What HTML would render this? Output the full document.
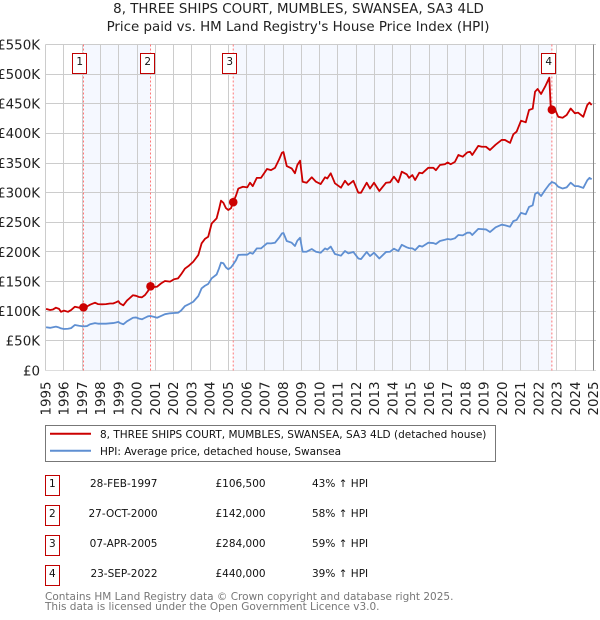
<!DOCTYPE html>
<html>
<head>
<meta charset="utf-8">
<title>8, THREE SHIPS COURT price chart</title>
<style>
html,body{margin:0;padding:0;background:#fff;}
body{width:600px;height:620px;overflow:hidden;position:relative;font-family:"DejaVu Sans","Liberation Sans",sans-serif;}
svg{position:absolute;left:0;top:0;}
text{font-family:"DejaVu Sans","Liberation Sans",sans-serif;}
</style>
</head>
<body>
<svg id="chart" width="600" height="620" viewBox="0 0 600 620" xmlns="http://www.w3.org/2000/svg">
  <text x="298.5" y="13" text-anchor="middle" font-size="13.4" fill="#222">8, THREE SHIPS COURT, MUMBLES, SWANSEA, SA3 4LD</text>
  <text x="298" y="31" text-anchor="middle" font-size="13.4" fill="#222">Price paid vs. HM Land Registry's House Price Index (HPI)</text>
  <g id="bands"></g>
  <g id="grid"></g>
  <g id="yaxis"></g>
  <g id="xaxis"></g>
  <g id="guides"></g>
  <path id="hpi-line" fill="none" stroke="#5f8fd2" stroke-width="1.8" stroke-linejoin="round"></path>
  <path id="price-line" fill="none" stroke="#cc0000" stroke-width="1.8" stroke-linejoin="round"></path>
  <g id="markers"></g>

  <g>
    <rect x="45.5" y="425.5" width="450" height="36" fill="#fff" stroke="#777" stroke-width="1"></rect>
    <line x1="50" x2="91" y1="433.7" y2="433.7" stroke="#cc0000" stroke-width="2"></line>
    <text x="100" y="438" font-size="10.5" fill="#111">8, THREE SHIPS COURT, MUMBLES, SWANSEA, SA3 4LD (detached house)</text>
    <line x1="50" x2="91" y1="450.7" y2="450.7" stroke="#5f8fd2" stroke-width="2"></line>
    <text x="100" y="455" font-size="10.5" fill="#111">HPI: Average price, detached house, Swansea</text>
  </g>

  <g font-size="10.5" fill="#111">
    <g>
      <rect x="45.5" y="475.5" width="14" height="20" fill="#fff" stroke="#c00000"></rect>
      <text x="52.3" y="487" text-anchor="middle">1</text>
      <text x="157.5" y="487" text-anchor="end">28-FEB-1997</text>
      <text x="215.5" y="487">£106,500</text>
      <text x="312" y="487">43% ↑ HPI</text>
    </g>
    <g>
      <rect x="45.5" y="505.5" width="14" height="20" fill="#fff" stroke="#c00000"></rect>
      <text x="52.3" y="517" text-anchor="middle">2</text>
      <text x="157.5" y="517" text-anchor="end">27-OCT-2000</text>
      <text x="215.5" y="517">£142,000</text>
      <text x="312" y="517">58% ↑ HPI</text>
    </g>
    <g>
      <rect x="45.5" y="535.5" width="14" height="20" fill="#fff" stroke="#c00000"></rect>
      <text x="52.3" y="547" text-anchor="middle">3</text>
      <text x="157.5" y="547" text-anchor="end">07-APR-2005</text>
      <text x="215.5" y="547">£284,000</text>
      <text x="312" y="547">59% ↑ HPI</text>
    </g>
    <g>
      <rect x="45.5" y="565.5" width="14" height="20" fill="#fff" stroke="#c00000"></rect>
      <text x="52.3" y="577" text-anchor="middle">4</text>
      <text x="157.5" y="577" text-anchor="end">23-SEP-2022</text>
      <text x="215.5" y="577">£440,000</text>
      <text x="312" y="577">39% ↑ HPI</text>
    </g>
  </g>

  <text x="45" y="600" font-size="10.5" fill="#777">Contains HM Land Registry data © Crown copyright and database right 2025.</text>
  <text x="45" y="610" font-size="10.5" fill="#777">This data is licensed under the Open Government Licence v3.0.</text>
</svg>

<script>
var yearTicks = [1995,1996,1997,1998,1999,2000,2001,2002,2003,2004,2005,2006,2007,2008,2009,2010,2011,2012,2013,2014,2015,2016,2017,2018,2019,2020,2021,2022,2023,2024,2025];
var valueTicks = [0,50,100,150,200,250,300,350,400,450,500,550];
var valueTickLabels = ['£0','£50K','£100K','£150K','£200K','£250K','£300K','£350K','£400K','£450K','£500K','£550K'];

var dates = [
1995.02,1995.24,1995.40,1995.56,1995.73,1995.84,1996.00,1996.22,1996.39,1996.60,
1996.82,1997.06,1997.26,1997.43,1997.70,1997.86,1998.08,1998.30,1998.52,1998.69,
1998.85,1998.98,1999.07,1999.25,1999.45,1999.78,1999.95,2000.11,2000.27,2000.44,
2000.60,2000.74,2000.93,2001.10,2001.32,2001.53,2001.81,2002.03,2002.25,2002.41,
2002.63,2002.85,2003.08,2003.36,2003.54,2003.72,2003.90,2004.09,2004.36,2004.49,
2004.60,2004.73,2004.87,2005.00,2005.15,2005.27,2005.42,2005.55,2005.80,2006.04,
2006.19,2006.34,2006.56,2006.79,2007.12,2007.34,2007.56,2007.78,2007.94,2008.02,
2008.20,2008.47,2008.65,2008.78,2008.93,2009.07,2009.29,2009.57,2009.80,2010.06,
2010.30,2010.42,2010.61,2010.84,2011.17,2011.39,2011.57,2011.85,2012.12,2012.27,
2012.58,2012.76,2012.98,2013.27,2013.64,2013.86,2014.07,2014.31,2014.50,2014.77,
2014.90,2015.08,2015.23,2015.46,2015.62,2015.95,2016.23,2016.37,2016.59,2016.86,
2017.01,2017.18,2017.41,2017.60,2017.84,2018.09,2018.24,2018.36,2018.69,2018.88,
2019.11,2019.33,2019.64,2019.97,2020.15,2020.43,2020.61,2020.79,2021.03,2021.29,
2021.47,2021.67,2021.80,2021.94,2022.13,2022.35,2022.58,2022.66,2022.71,2022.89,
2023.07,2023.31,2023.53,2023.75,2023.98,2024.16,2024.44,2024.66,2024.78,2024.90
];
var priceValues = [
104,102,103,106,104,99,101,99,102,107.6,
106,106.5,108,111,114.4,112,111.7,112,113,113,
115,117,113,110,118,127,126,124,123.5,127.4,
134,141.5,141,141.4,147,151,150,154,155.5,162,
172,177,183.5,195,214.6,222,225.7,248,256.7,272,
286.5,283,274,270.8,274,284,295,307,310,309,
316.8,311,325,325,340,338,342,356,367.5,368.6,
345,341,332.7,346.7,354,318.5,316.8,326,318.5,314.6,
326,324,332.7,315.8,308.4,320,313,320,300,300,
316.8,307,316.8,302.8,316.8,317.5,327,317.5,335.4,331,
325,329.8,321.4,333.7,332.7,342,342,338,346.7,347.9,
351,348,352,363.6,360.7,368,369,363.6,379,377.5,
377.5,372,381,389,389,384,398.5,403,421.5,418.7,
439.5,441.7,470.4,475,466.5,479,494,442,440,440.6,
428,426.5,431,442,434,435,428,448,452,448
];
var hpiValues = [
73,72,73,74,72.5,71,70,70.5,71.5,76.8,
75.5,74.5,75,78,80,79,79,79,79.6,80,
81,82,80,78,83,89,89.5,87.5,86.4,89,
91.4,92,90.5,89,92,95,96.5,97,97.5,101,
108.8,112,116,125.7,138.7,143,146,155.5,162,172,
182,181,174,170.7,174,179,186,195,195.5,195.4,
198.8,197,206,206,214.6,214.5,215.6,224,231.4,232,
218.5,215.6,210,219,224,200.4,200.4,205,200.4,198.7,
206,204,209,196.5,193.7,201.6,197.7,200,189,188,
200,193,198.7,189,200,200.4,205.5,201.6,212,207.8,
206.5,206,203,210.5,209,215.6,215,213.4,218.5,220.5,
221.8,221,223,228.6,228,232.5,232.5,228.6,239,238.5,
238,233.6,241.6,246,245,242.6,252,254,266,263.5,
276,278.7,297.7,300.6,294.4,304.5,314,316,318,316,
310,307,309,316.8,311,311,308,321,325,322.6
];
var saleNumbers = ['1','2','3','4'];
var saleDates = [1997.07,2000.74,2005.27,2022.72];
var salePrices = [106.5,142,284,440];

var svgNS = 'http://www.w3.org/2000/svg';
function xScale(year){ return 45.7 + (year - 1995) * 18.26; }
function yScale(k){ return 370.5 - k * (326 / 550); }
function snap(v){ return Math.round(v - 0.5) + 0.5; }
function make(tag, attrs, parent){
  var el = document.createElementNS(svgNS, tag);
  for (var a in attrs) el.setAttribute(a, attrs[a]);
  parent.appendChild(el);
  return el;
}
var bandsG = document.getElementById('bands');
var gridG = document.getElementById('grid');
var yaxisG = document.getElementById('yaxis');
var xaxisG = document.getElementById('xaxis');
var guidesG = document.getElementById('guides');
var markersG = document.getElementById('markers');
var plotTop = yScale(550), plotBottom = yScale(0);

[[0,1],[2,3]].forEach(function(pair){
  var x0 = xScale(saleDates[pair[0]]), x1 = xScale(saleDates[pair[1]]);
  var band = make('rect', {x:x0, y:plotTop, width:x1-x0, height:plotBottom-plotTop, fill:'#f5f8ff'}, bandsG);
  
  
});

valueTicks.forEach(function(v, i){
  var y = snap(yScale(v));
  var line = make('line', {x1:45.5, x2:596, y1:y, y2:y, stroke: v === 0 ? '#dddddd' : '#cccccc', 'stroke-width':1}, gridG);
  
  
  var label = make('text', {x:40, y:yScale(v)+4.8, 'text-anchor':'end', 'font-size':13.4, fill:'#222'}, yaxisG);
  label.textContent = valueTickLabels[i];
  
  
});

yearTicks.forEach(function(yr){
  var x = snap(xScale(yr));
  var line = make('line', {x1:x, x2:x, y1:plotTop, y2:plotBottom, stroke: yr === 2025 ? '#888888' : '#cccccc', 'stroke-width':1}, gridG);
  
  
  var label = make('text', {transform:'translate(' + (xScale(yr)+4.7) + ',415.5) rotate(-90)', 'font-size':13.4, fill:'#222'}, xaxisG);
  label.textContent = String(yr);
  
  
});

function pathFor(values){
  return values.map(function(v, i){
    return (i ? 'L' : 'M') + xScale(dates[i]).toFixed(2) + ' ' + yScale(v).toFixed(2);
  }).join(' ');
}
document.getElementById('hpi-line').setAttribute('d', pathFor(hpiValues));
document.getElementById('price-line').setAttribute('d', pathFor(priceValues));

saleDates.forEach(function(d, i){
  var x = xScale(d);
  var guide = make('line', {x1:x, x2:x, y1:plotTop, y2:plotBottom, stroke:'#ff7777', 'stroke-width':1, 'stroke-dasharray':'2 2'}, guidesG);
  
  
  var dot = make('circle', {cx:x, cy:yScale(salePrices[i]), r:4.3, fill:'#cc0000'}, markersG);
  
  
  var box = make('rect', {x:Math.round(x)-10.5, y:53.5, width:14, height:20, fill:'#fff', stroke:'#c00000', 'stroke-width':1}, markersG);
  
  
  var num = make('text', {x:Math.round(x)-3.3, y:65, 'text-anchor':'middle', 'font-size':10.5, fill:'#111'}, markersG);
  num.textContent = saleNumbers[i];
  
  
});
</script>
</body>
</html>
